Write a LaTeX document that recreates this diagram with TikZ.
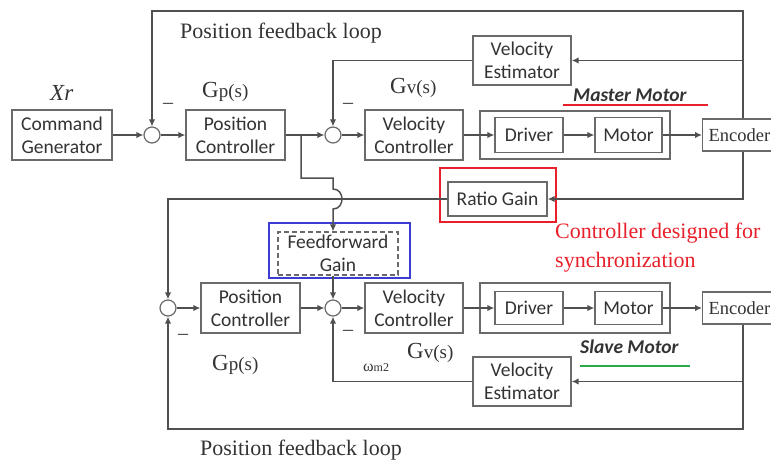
\documentclass[tikz,border=0pt]{standalone}
\usepackage{fontspec}
\setmainfont{Liberation Serif}
\newfontfamily\boxfont{Carlito}
\usetikzlibrary{arrows.meta, positioning, calc}
\definecolor{wire}{HTML}{505050}
\definecolor{frame}{HTML}{6A6A6A}
\definecolor{ink}{HTML}{333333}
\definecolor{synred}{HTML}{E8202A}
\definecolor{ffblue}{HTML}{3C3CD2}
\definecolor{slgreen}{HTML}{2AA84A}
\newcommand{\gfun}[1]{G{\fontsize{19}{19}\selectfont #1(s)}}

\begin{document}
\begin{tikzpicture}[x=1pt, y=-1pt,
    block/.style={rectangle, draw=frame, line width=1.3pt, fill=white,
                  text=ink, font=\boxfont\fontsize{19.5}{23}\selectfont,
                  align=center, inner sep=0pt},
    enc/.style={block, anchor=west, inner xsep=6pt, minimum height=32pt,
                font=\fontsize{18.5}{22}\selectfont},
    sumpt/.style={circle, draw=frame, line width=1.2pt, fill=white,
                  minimum size=16pt, inner sep=0pt},
    link/.style={-{Latex[length=7pt, width=6.5pt]}, line width=1.5pt, draw=wire},
    gain/.style={font=\fontsize{23}{23}\selectfont, text=ink, inner sep=0pt,
                 anchor=base west},
    minus/.style={font=\fontsize{20}{20}\selectfont, text=ink, inner sep=0pt},
    tag/.style={font=\boxfont\bfseries\itshape\fontsize{19.5}{23}\selectfont,
                text=ink, inner sep=0pt, anchor=base west},
    loopnote/.style={font=\fontsize{22}{27}\selectfont, text=ink, inner sep=0pt,
                     anchor=base west},
]
\useasboundingbox (0,0) rectangle (771,461);
\clip (0,0) rectangle (771,461);

% Synchronization frames
\node[draw=synred, line width=1.3pt, minimum width=116pt, minimum height=54pt,
      inner sep=0pt] (syncbox) at (498,195) {};
\node[draw=ffblue, line width=1.3pt, minimum width=141pt, minimum height=55pt,
      inner sep=0pt] (ffbox) at (339.5,250.5) {};

% Master axis
\node[block, minimum width=100pt, minimum height=50pt] (cmd)  at (62,135)    {Command\\Generator};
\node[sumpt]                                           (sum1) at (152,135)   {};
\node[block, minimum width=99pt, minimum height=50pt]  (pc1)  at (235.5,135) {Position\\Controller};
\node[sumpt]                                           (sum2) at (333,135)   {};
\node[block, minimum width=98pt, minimum height=50pt]  (vc1)  at (414,135)   {Velocity\\Controller};
\node[block, minimum width=190pt, minimum height=48pt] (mbox) at (575,135)   {};
\node[block, minimum width=68pt, minimum height=35pt]  (drv1) at (529,135)   {Driver};
\node[block, minimum width=67pt, minimum height=35pt]  (mot1) at (628.5,135) {Motor};
\node[enc]                                             (enc1) at (702,135)   {Encoder};
\node[block, minimum width=98pt, minimum height=49pt]  (est1) at (522,60.5)  {Velocity\\Estimator};

% Synchronization blocks
\node[block, minimum width=99pt, minimum height=34pt]  (ratio) at (497.5,199) {Ratio Gain};
\node[block, dashed, dash pattern=on 5pt off 3pt, line width=1.2pt,
      minimum width=120pt, minimum height=43pt]        (ff)    at (338,253.5) {Feedforward\\Gain};

% Slave axis
\node[sumpt]                                           (sum3) at (168,308)   {};
\node[block, minimum width=99pt, minimum height=50pt]  (pc2)  at (250.5,308) {Position\\Controller};
\node[sumpt]                                           (sum4) at (333,308)   {};
\node[block, minimum width=98pt, minimum height=50pt]  (vc2)  at (414,308)   {Velocity\\Controller};
\node[block, minimum width=190pt, minimum height=50pt] (sbox) at (575,308)   {};
\node[block, minimum width=68pt, minimum height=33pt]  (drv2) at (529,308)   {Driver};
\node[block, minimum width=67pt, minimum height=33pt]  (mot2) at (628.5,308) {Motor};
\node[enc]                                             (enc2) at (702,308)   {Encoder};
\node[block, minimum width=98pt, minimum height=49pt]  (est2) at (522,381.5) {Velocity\\Estimator};

% Labels
\node[gain] (xr)  at (50,100)  {\textit{Xr}};
\node[gain] (gp1) at (202,97)  {\gfun{p}};
\node[gain] (gv1) at (390,93)  {\gfun{v}};
\node[gain] (gp2) at (212,370) {\gfun{p}};
\node[gain] (gv2) at (407,358) {\gfun{v}};
\node[gain, text=ink] (wm2) at (363,371)
     {{\fontsize{16}{16}\selectfont ω}{\fontsize{12}{12}\selectfont m2}};
\node[minus] (m1) at (168,106) {–};
\node[minus] (m2) at (348,106) {–};
\node[minus] (m3) at (183,337) {–};
\node[minus] (m4) at (348,333) {–};
\node[loopnote] (looptop) at (180,38)  {Position feedback loop};
\node[loopnote] (loopbot) at (200,455) {Position feedback loop};
\node[loopnote, text=synred, align=left, font=\fontsize{22}{29}\selectfont]
     (syncnote) at (555,267) {Controller designed for\\synchronization};
\node[tag] (mtag) at (573,101) {Master Motor};
\node[tag] (stag) at (580,353) {Slave Motor};
\draw[synred, line width=1.5pt]  (563,105) -- (708,105);
\draw[slgreen, line width=2pt]   (580,366) -- (690,366);

% Master connectors
\draw[link] (cmd)  -- (sum1);
\draw[link] (sum1) -- (pc1);
\draw[link] (pc1)  -- (sum2);
\draw[link] (sum2) -- (vc1);
\draw[link] (vc1)  -- (drv1);
\draw[link] (drv1) -- (mot1);
\draw[link] (mot1) -- (enc1);

\coordinate (rtop) at (743,11);
\draw[link] (enc1.north -| rtop) -- (rtop) -| (sum1.north);
\draw[link] (rtop |- est1) -- (est1.east);
\draw[link] (est1.west) -| (sum2.north);
\draw[link] (enc1.south -| rtop) |- (ratio.east);
\draw[link] (ratio.west) -| (sum3.north);

% Feedforward branch, hopping over the ratio line
\coordinate (tap) at (301,135);
\coordinate (hop) at (333,199);
\draw[link] (tap) |- ([yshift=21pt]hop) -- ([yshift=10pt]hop)
    .. controls ([xshift=12pt, yshift=10pt]hop) and ([xshift=12pt, yshift=-10pt]hop)
    .. ([yshift=-10pt]hop) -- (ff.north -| sum4);
\draw[link] (ff.south -| sum4) -- (sum4.north);

% Slave connectors
\draw[link] (sum3) -- (pc2);
\draw[link] (pc2)  -- (sum4);
\draw[link] (sum4) -- (vc2);
\draw[link] (vc2)  -- (drv2);
\draw[link] (drv2) -- (mot2);
\draw[link] (mot2) -- (enc2);

\coordinate (rbot) at (743,429);
\draw[link] (enc2.south -| rtop) |- (est2.east);
\draw[link] (est2.west) -| (sum4.south);
\draw[link] (enc2.south -| rtop) -- (rbot) -| (sum3.south);

\end{tikzpicture}
\end{document}
